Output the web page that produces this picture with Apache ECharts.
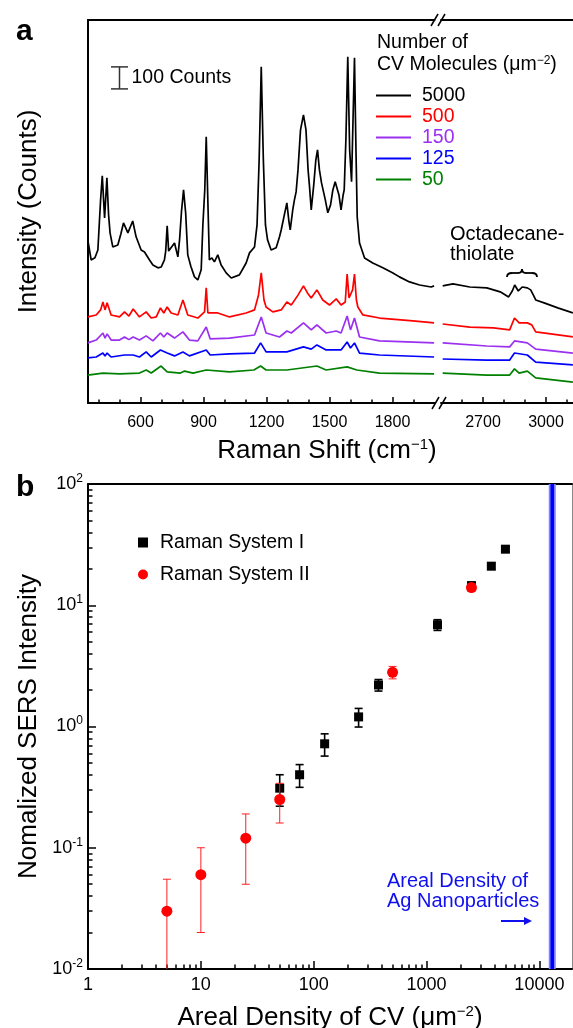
<!DOCTYPE html>
<html><head><meta charset="utf-8">
<script src="https://cdn.jsdelivr.net/npm/echarts@6/dist/echarts.min.js"></script>
<style>html,body{margin:0;padding:0;background:#fff}#c{width:573px;height:1028px}</style>
</head><body><div id="c"></div>
<script>
// ---------- Panel a data (Raman shift cm-1, intensity counts) ----------
const spec5000Low = [[349,741],[365,650],[383,660],[397,695],[410,923],[418,1032],[429,841],[440,1023],[448,855],[455,773],[468,709],[492,718],[507,770],[519,818],[540,773],[563,827],[579,755],[603,695],[619,686],[643,650],[659,627],[683,614],[699,618],[714,650],[720,690],[727,805],[734,690],[741,682],[762,727],[778,664],[786,741],[795,868],[805,968],[815,864],[825,673],[840,620],[857,573],[873,559],[889,605],[897,809],[906,968],[913,1209],[920,945],[928,650],[940,659],[952,641],[968,673],[984,627],[1008,591],[1032,568],[1071,582],[1103,636],[1119,682],[1143,709],[1155,809],[1165,1105],[1175,1527],[1185,1105],[1195,809],[1205,741],[1222,695],[1246,705],[1262,755],[1270,786],[1285,855],[1297,909],[1307,823],[1313,786],[1325,877],[1333,923],[1341,959],[1350,1059],[1362,1241],[1376,1309],[1388,1241],[1398,1059],[1405,982],[1413,877],[1425,991],[1435,1105],[1443,1150],[1452,1059],[1462,1000],[1470,991],[1480,923],[1492,864],[1505,900],[1516,968],[1527,1005],[1535,1014],[1545,945],[1555,877],[1565,945],[1570,968],[1578,1195],[1587,1573],[1596,1150],[1605,1005],[1612,1286],[1619,1568],[1626,1150],[1632,845],[1643,727],[1667,659],[1706,636],[1754,614],[1802,591],[1833,573],[1881,550],[1929,536],[1984,527],[1998,532]];
const spec5000High = [[2508,532],[2557,541],[2637,527],[2718,523],[2782,505],[2822,482],[2840,510],[2851,536],[2868,509],[2887,527],[2911,523],[2927,514],[2940,490],[2951,468],[2991,455],[3056,432],[3128,409]];
const spec500Low = [[349,391],[389,400],[410,423],[421,459],[431,423],[441,455],[460,400],[500,391],[524,414],[545,395],[565,427],[595,391],[627,414],[651,386],[675,391],[695,432],[711,409],[727,436],[746,409],[778,400],[802,468],[825,400],[873,386],[905,414],[913,523],[921,409],[968,409],[1024,391],[1103,409],[1143,423],[1162,491],[1175,591],[1188,468],[1198,436],[1230,414],[1270,423],[1297,459],[1318,445],[1350,490],[1376,532],[1395,500],[1413,477],[1440,514],[1468,468],[1500,445],[1532,473],[1555,445],[1575,459],[1584,586],[1593,477],[1600,473],[1610,514],[1619,586],[1628,468],[1635,436],[1659,400],[1738,386],[1897,373],[1998,364]];
const spec500High = [[2508,359],[2637,345],[2750,341],[2827,332],[2850,386],[2872,364],[2911,364],[2932,355],[2951,323],[3128,300]];
const spec150Low = [[349,273],[389,286],[421,318],[431,295],[441,314],[460,286],[500,286],[524,300],[545,288],[565,300],[595,286],[627,305],[659,282],[695,318],[711,300],[727,318],[762,295],[802,323],[833,286],[873,282],[913,345],[932,291],[1024,295],[1143,309],[1175,391],[1198,318],[1262,300],[1297,327],[1318,318],[1376,364],[1413,332],[1440,355],[1484,318],[1532,327],[1555,318],[1584,395],[1600,332],[1619,386],[1643,300],[1738,282],[1998,273]];
const spec150High = [[2508,273],[2718,259],[2827,255],[2850,282],[2911,273],[2951,245],[3128,227]];
const spec125Low = [[349,205],[389,209],[421,227],[431,214],[441,227],[460,209],[524,218],[565,218],[595,209],[627,232],[651,209],[695,241],[727,227],[762,214],[802,232],[833,214],[913,241],[932,218],[1024,223],[1143,227],[1172,273],[1198,232],[1297,232],[1376,255],[1413,245],[1440,264],[1484,241],[1555,241],[1584,277],[1600,250],[1619,273],[1643,227],[1738,218],[1998,209]];
const spec125High = [[2508,200],[2718,195],[2827,195],[2850,227],[2911,218],[2951,186],[3128,173]];
const spec50Low = [[349,127],[421,136],[500,132],[595,136],[627,150],[651,136],[698,168],[727,141],[790,136],[810,145],[850,136],[913,150],[1024,141],[1140,150],[1172,168],[1198,150],[1297,150],[1440,168],[1484,150],[1584,164],[1630,150],[1738,136],[1998,132]];
const spec50High = [[2508,136],[2718,127],[2827,127],[2850,155],[2872,136],[2911,145],[2951,114],[3128,95]];
const legendNames = ['5000','500','150','125','50'];
const ramanMajorLow = [600,900,1200,1500,1800];
const ramanMinorLow = [400,500,700,800,1000,1100,1300,1400,1600,1700,1900];
const ramanMajorHigh = [2700,3000];
const ramanMinorHigh = [2600,2800,2900,3100];
const scaleBar = [[500,1427,1527]]; // x (cm-1), from, to (100 counts)

// ---------- Panel b data ----------
const sys1X = [50,75,125,250,375,1250,2500,3750,5000];
const sys1Y = [0.31,0.40,0.72,1.2,2.2,6.9,14.5,21,29];
const sys1Err = [0.09,0.085,0.15,0.21,0.24,0.7,1.0,1.2,1.5];
const sys2X = [5,10,25,50,500,2500];
const sys2Y = [0.03,0.06,0.12,0.25,2.8,14];
const sys2Err = [0.025,0.04,0.07,0.09,0.33,1.0];
const agDensity = 13000;
const xDecades = [1,10,100,1000,10000];
const xMinor = [2,3,4,5,6,7,8,9,20,30,40,50,60,70,80,90,200,300,400,500,600,700,800,900,2000,3000,4000,5000,6000,7000,8000,9000];
const yDecades = [0.01,0.1,1,10,100];
const yMinor = [0.02,0.03,0.04,0.05,0.06,0.07,0.08,0.09,0.2,0.3,0.4,0.5,0.6,0.7,0.8,0.9,2,3,4,5,6,7,8,9,20,30,40,50,60,70,80,90];

const FONT = "'Liberation Sans', Arial, Helvetica, sans-serif";
const colors = ['#000000','#ff0000','#9b30f0','#0000ff','#008000'];
const lows = [spec5000Low,spec500Low,spec150Low,spec125Low,spec50Low];
const highs = [spec5000High,spec500High,spec150High,spec125High,spec50High];

const chart = echarts.init(document.getElementById('c'));
const AL = {color:'#000', width:2};
const noSplit = {show:false};

function valAxis(grid, min, max, pos, extra){
  return Object.assign({gridIndex:grid, type:'value', min:min, max:max, position:pos,
    splitLine:noSplit, axisLine:{show:false,onZero:false}, axisTick:{show:false}, axisLabel:{show:false}}, extra);
}
function logAxis(grid, min, max, pos, extra){
  return Object.assign({gridIndex:grid, type:'log', logBase:10, min:min, max:max, position:pos,
    splitLine:noSplit, axisLine:{show:false,onZero:false}, axisTick:{show:false}, axisLabel:{show:false}}, extra);
}
const plain = v => String(Math.round(v));

const xAxes = [
  valAxis(0,350,2000,'bottom',{axisLine:{show:true,onZero:false,lineStyle:AL},
    axisTick:{show:true,inside:true,length:6,customValues:ramanMajorLow,lineStyle:{color:'#000',width:1.5}},
    axisLabel:{show:true,customValues:ramanMajorLow,fontSize:16,color:'#000',margin:12,fontFamily:FONT,formatter:plain}}),
  valAxis(0,350,2000,'bottom',{axisTick:{show:true,inside:true,length:3.5,customValues:ramanMinorLow,lineStyle:{color:'#000',width:1.5}}}),
  valAxis(0,350,2000,'top',{axisLine:{show:true,onZero:false,lineStyle:AL}}),
  valAxis(1,2500,3130,'bottom',{axisLine:{show:true,onZero:false,lineStyle:AL},
    axisTick:{show:true,inside:true,length:6,customValues:ramanMajorHigh,lineStyle:{color:'#000',width:1.5}},
    axisLabel:{show:true,customValues:ramanMajorHigh,fontSize:16,color:'#000',margin:12,fontFamily:FONT,formatter:plain}}),
  valAxis(1,2500,3130,'bottom',{axisTick:{show:true,inside:true,length:3.5,customValues:ramanMinorHigh,lineStyle:{color:'#000',width:1.5}}}),
  valAxis(1,2500,3130,'top',{axisLine:{show:true,onZero:false,lineStyle:AL}}),
  logAxis(2,1,19450,'bottom',{axisLine:{show:true,onZero:false,lineStyle:AL},
    axisTick:{show:true,inside:true,length:8,customValues:xDecades,lineStyle:{color:'#000',width:1.5}},
    axisLabel:{show:true,customValues:xDecades,fontSize:18,color:'#000',margin:7,fontFamily:FONT,formatter:plain},
    name:'Areal Density of CV (\u03bcm{s|\u22122})', nameLocation:'middle', nameGap:35,
    nameTextStyle:{fontSize:26,color:'#000',fontFamily:FONT,rich:{s:{fontSize:15,fontFamily:FONT,color:'#000',padding:[0,0,12,0]}}}}),
  logAxis(2,1,19450,'bottom',{axisTick:{show:true,inside:true,length:4.5,customValues:xMinor,lineStyle:{color:'#000',width:1.5}}}),
  logAxis(2,1,19450,'top',{axisLine:{show:true,onZero:false,lineStyle:AL}})
];
const yAxes = [
  valAxis(0,0,1740,'left',{axisLine:{show:true,onZero:false,lineStyle:AL},
    name:'Intensity (Counts)', nameLocation:'middle', nameGap:46, nameTextStyle:{fontSize:26,color:'#000',fontFamily:FONT}}),
  valAxis(1,0,1740,'left',{}),
  logAxis(2,0.01,100,'left',{axisLine:{show:true,onZero:false,lineStyle:AL},
    axisTick:{show:true,inside:true,length:8,customValues:yDecades,lineStyle:{color:'#000',width:1.5}},
    axisLabel:{show:true,customValues:yDecades,margin:5,color:'#000',
      formatter:v=>'{b|10}{s|'+Math.round(Math.log10(v))+'}',
      rich:{b:{fontSize:18,fontFamily:FONT,color:'#000'},s:{fontSize:12,fontFamily:FONT,color:'#000',padding:[0,0,11,0]}}},
    name:'Nomalized SERS Intensity', nameLocation:'middle', nameGap:46, nameTextStyle:{fontSize:26,color:'#000',fontFamily:FONT}}),
  logAxis(2,0.01,100,'left',{axisTick:{show:true,inside:true,length:4.5,customValues:yMinor,lineStyle:{color:'#000',width:1.5}}}),
  logAxis(2,0.01,100,'right',{axisLine:{show:true,onZero:false,lineStyle:{color:'#888',width:1}}})
];

const series = [];
legendNames.forEach((n,i)=>{
  series.push({type:'line', name:n, xAxisIndex:0, yAxisIndex:0, data:lows[i], symbol:'none', silent:true,
    lineStyle:{color:colors[i], width:1.7}, itemStyle:{color:colors[i]}, z:3});
  series.push({type:'line', name:n, xAxisIndex:3, yAxisIndex:1, data:highs[i], symbol:'none', silent:true,
    lineStyle:{color:colors[i], width:1.7}, itemStyle:{color:colors[i]}, z:3});
});
series.push({type:'custom', xAxisIndex:0, yAxisIndex:0, data:scaleBar, silent:true, z:4,
  renderItem:(params, api)=>{
    const x = api.value(0);
    const p0 = api.coord([x, api.value(1)]), p1 = api.coord([x, api.value(2)]);
    const hw = 8.5, st = {stroke:'#333', lineWidth:1.5};
    return {type:'group', children:[
      {type:'line', shape:{x1:p0[0],y1:p0[1],x2:p1[0],y2:p1[1]}, style:st},
      {type:'line', shape:{x1:p0[0]-hw,y1:p0[1],x2:p0[0]+hw,y2:p0[1]}, style:st},
      {type:'line', shape:{x1:p1[0]-hw,y1:p1[1],x2:p1[0]+hw,y2:p1[1]}, style:st},
      {type:'text', x:p0[0]+12, y:(p0[1]+p1[1])/2, style:{text:'100 Counts', fontSize:19.5, fontFamily:FONT, fill:'#000', align:'left', verticalAlign:'middle'}}
    ]};
  }});

// Panel b
const agLine = [[agDensity,0.01],[agDensity,100]];
series.push({type:'line', xAxisIndex:6, yAxisIndex:2, data:agLine, symbol:'none', silent:true, lineStyle:{color:'#8080ff', width:7}, z:2});
series.push({type:'line', xAxisIndex:6, yAxisIndex:2, data:agLine, symbol:'none', silent:true, lineStyle:{color:'#0000ff', width:3.5}, z:2});
function errRender(color, lw, hw){
  return (params, api)=>{
    const x = api.value(0);
    const lo = api.coord([x, api.value(2)]), hi = api.coord([x, api.value(3)]);
    const st = {stroke:color, lineWidth:lw};
    return {type:'group', children:[
      {type:'line', shape:{x1:lo[0],y1:lo[1],x2:hi[0],y2:hi[1]}, style:st},
      {type:'line', shape:{x1:hi[0]-hw,y1:hi[1],x2:hi[0]+hw,y2:hi[1]}, style:st},
      {type:'line', shape:{x1:lo[0]-hw,y1:lo[1],x2:lo[0]+hw,y2:lo[1]}, style:st}
    ]};
  };
}
series.push({type:'custom', xAxisIndex:6, yAxisIndex:2, clip:true, silent:true, z:3,
  data: sys1X.map((x,i)=>[x, sys1Y[i], sys1Y[i]-sys1Err[i], sys1Y[i]+sys1Err[i]]), renderItem: errRender('#000',1.6,4)});
series.push({type:'scatter', name:'Raman System I', xAxisIndex:6, yAxisIndex:2, symbol:'rect', symbolSize:9,
  itemStyle:{color:'#000', opacity:1}, data: sys1X.map((x,i)=>[x, sys1Y[i]]), z:4, silent:true});
series.push({type:'custom', xAxisIndex:6, yAxisIndex:2, clip:true, silent:true, z:5,
  data: sys2X.map((x,i)=>[x, sys2Y[i], sys2Y[i]-sys2Err[i], sys2Y[i]+sys2Err[i]]), renderItem: errRender('#ff2020',1,4)});
series.push({type:'scatter', name:'Raman System II', xAxisIndex:6, yAxisIndex:2, symbol:'circle', symbolSize:11,
  itemStyle:{color:'#ff0000', opacity:1}, data: sys2X.map((x,i)=>[x, sys2Y[i]]), z:6, silent:true});

const supRich = (size, sup, lift)=>({n:{fontSize:size,fontFamily:FONT,color:'#000'}, s:{fontSize:sup,fontFamily:FONT,color:'#000',padding:[0,0,lift,0]}});
const BS = {stroke:'#000', lineWidth:1.8, fill:null};
const graphic = [
  {type:'text', x:16, y:32, style:{text:'a', font:'bold 30px '+FONT, fill:'#000', verticalAlign:'middle'}},
  {type:'text', x:16, y:488, style:{text:'b', font:'bold 30px '+FONT, fill:'#000', verticalAlign:'middle'}},
  {type:'text', x:377, y:43, style:{text:'Number of', fontSize:19.5, fontFamily:FONT, fill:'#000', verticalAlign:'middle'}},
  {type:'text', x:377, y:65, style:{text:'{n|CV Molecules (\u03bcm}{s|\u22122}{n|)}', rich:supRich(19.5,12,9), verticalAlign:'middle'}},
  {type:'text', x:450, y:244, style:{text:'Octadecane-\nthiolate', fontSize:20, lineHeight:20, fontFamily:FONT, fill:'#000', verticalAlign:'middle'}},
  {type:'bezierCurve', shape:{x1:507,y1:277,x2:512,y2:273,cpx1:507,cpy1:273}, style:BS},
  {type:'line', shape:{x1:512,y1:273,x2:518,y2:273}, style:BS},
  {type:'bezierCurve', shape:{x1:518,y1:273,x2:522,y2:269,cpx1:522,cpy1:273}, style:BS},
  {type:'bezierCurve', shape:{x1:522,y1:269,x2:526,y2:273,cpx1:522,cpy1:273}, style:BS},
  {type:'line', shape:{x1:526,y1:273,x2:532,y2:273}, style:BS},
  {type:'bezierCurve', shape:{x1:532,y1:273,x2:537,y2:277,cpx1:537,cpy1:273}, style:BS},
  {type:'text', x:327, y:451, style:{text:'{n|Raman Shift (cm}{s|\u22121}{n|)}', rich:supRich(26,15,12), align:'center', verticalAlign:'middle'}},
  // axis breaks
  {type:'line', shape:{x1:432,y1:409,x2:439,y2:397}, style:{stroke:'#000', lineWidth:1.5}},
  {type:'line', shape:{x1:439,y1:409,x2:446,y2:397}, style:{stroke:'#000', lineWidth:1.5}},
  {type:'line', shape:{x1:431,y1:26,x2:438,y2:14}, style:{stroke:'#000', lineWidth:1.5}},
  {type:'line', shape:{x1:438,y1:26,x2:445,y2:14}, style:{stroke:'#000', lineWidth:1.5}},
  // Ag annotation
  {type:'text', x:387, y:891.7, style:{text:'Areal Density of\nAg Nanoparticles', fontSize:20, lineHeight:20, fontFamily:FONT, fill:'#1010ee', verticalAlign:'middle'}},
  {type:'line', shape:{x1:501,y1:921,x2:526,y2:921}, style:{stroke:'#1010ee', lineWidth:2}},
  {type:'polygon', shape:{points:[[532,921],[524,917],[524,925]]}, style:{fill:'#1010ee'}}
];

chart.setOption({
  animation:false,
  backgroundColor:'#fff',
  textStyle:{fontFamily:FONT},
  grid:[
    {left:88, top:20, width:346.5, height:383, containLabel:false, outerBoundsMode:'none'},
    {left:441, top:20, width:132.3, height:383, containLabel:false, outerBoundsMode:'none'},
    {left:88, top:484, width:484, height:485, containLabel:false, outerBoundsMode:'none'}
  ],
  xAxis:xAxes, yAxis:yAxes,
  legend:[
    {data:legendNames.map((n,i)=>({name:n, textStyle:{color:colors[i]}})), orient:'vertical', left:376, top:85.5, padding:0,
     itemWidth:35, itemHeight:2, itemGap:1, icon:'rect', selectedMode:false,
     textStyle:{fontSize:19.5, fontFamily:FONT, lineHeight:20, padding:[0,0,0,6]}},
    {data:[{name:'Raman System I', icon:'rect'},{name:'Raman System II', icon:'circle'}], orient:'vertical', left:138, top:532.5, padding:0,
     itemWidth:10, itemHeight:10, itemGap:12, selectedMode:false,
     textStyle:{fontSize:19.5, fontFamily:FONT, color:'#000', padding:[0,0,0,7]}}
  ],
  series:series,
  graphic:graphic
});
</script></body></html>
